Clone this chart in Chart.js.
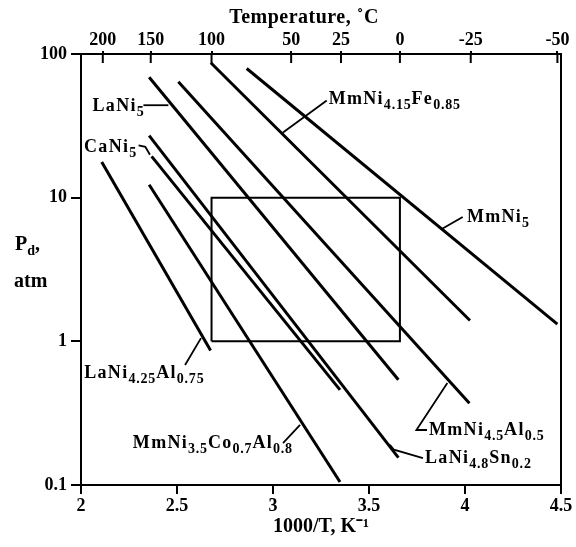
<!DOCTYPE html>
<html>
<head>
<meta charset="utf-8">
<script src="https://cdn.jsdelivr.net/npm/chart.js@4"></script>
<style>
  body { margin: 0; background: #fff; }
  #wrap { width: 576px; height: 547px; }
</style>
</head>
<body>
<div id="wrap"><canvas id="vhChart"></canvas></div>
<script>
// van't Hoff lines: plateau pressure vs 1000/T, each drawn from start to end point
const alloys = ['LaNi_{4.25}Al_{0.75}', 'MmNi_{3.5}Co_{0.7}Al_{0.8}', 'CaNi_{5}', 'LaNi_{4.8}Sn_{0.2}',
                'LaNi_{5}', 'MmNi_{4.5}Al_{0.5}', 'MmNi_{4.15}Fe_{0.85}', 'MmNi_{5}'];
const xStart = [2.108, 2.355, 2.368, 2.355, 2.355, 2.507, 2.676, 2.863];
const pStart = [17.7, 12.3, 19.4, 27.0, 68.9, 64.0, 86.9, 79.3];
const xEnd   = [2.675, 3.349, 3.349, 3.653, 3.653, 4.023, 4.026, 4.481];
const pEnd   = [0.863, 0.105, 0.459, 0.155, 0.54, 0.371, 1.396, 1.319];

// box: 0-100 C, 1-10 atm
const boxTemps = [0, 100];
const boxP = [1, 10];

const xTicks = [2, 2.5, 3, 3.5, 4, 4.5];
const yTicks = [0.1, 1, 10, 100];
const tempTicks = [200, 150, 100, 50, 25, 0, -25, -50];

const invT = (c) => 1000 / (c + 273.15);

// label positions (data coords) and leader polylines
const labelSpots = [
    { text: 'LaNi_{5}', x: 2.060, y: 43.3, leader: [[2.325, 44.0], [2.455, 44.0]] },
    { text: 'CaNi_{5}', x: 2.016, y: 22.3, leader: [[2.300, 23.1], [2.335, 22.6], [2.359, 19.9]] },
    { text: 'LaNi_{4.25}Al_{0.75}', x: 2.017, y: 0.603, leader: [[2.625, 1.053], [2.542, 0.685]] },
    { text: 'MmNi_{3.5}Co_{0.7}Al_{0.8}', x: 2.270, y: 0.196, leader: [[3.141, 0.262], [3.052, 0.196]] },
    { text: 'LaNi_{4.8}Sn_{0.2}', x: 3.792, y: 0.154, leader: [[3.609, 0.190], [3.63, 0.176], [3.781, 0.154]] },
    { text: 'MmNi_{4.5}Al_{0.5}', x: 3.8125, y: 0.2415, leader: [[3.908, 0.512], [3.747, 0.2415], [3.802, 0.2415]] },
    { text: 'MmNi_{4.15}Fe_{0.85}', x: 3.290, y: 48.2, leader: [[3.052, 28.4], [3.280, 47.4]] },
    { text: 'MmNi_{5}', x: 4.010, y: 7.26, leader: [[3.879, 6.05], [3.988, 7.34]] },
];

const FONT = '"Liberation Serif", "Times New Roman", serif';

function drawRich(ctx, str, x, y) {
    // split "ab_{cd}ef" into normal / subscript parts
    const parts = str.split(/(_\{[^}]*\})/).filter(s => s.length);
    let cx = x;
    ctx.textBaseline = 'middle';
    ctx.textAlign = 'left';
    parts.forEach(p => {
        if (p.startsWith('_{')) {
            ctx.font = 'bold 14px ' + FONT;
            ctx.letterSpacing = '0.8px';
            const t = p.slice(2, -1);
            ctx.fillText(t, cx, y + 6);
            cx += ctx.measureText(t).width;
        } else {
            ctx.font = 'bold 18px ' + FONT;
            ctx.letterSpacing = '1.3px';
            ctx.fillText(p, cx, y);
            cx += ctx.measureText(p).width;
        }
    });
    ctx.letterSpacing = '0px';
}

const extrasPlugin = {
    id: 'extras',
    afterDatasetsDraw(chart) {
        const ctx = chart.ctx;
        const xs = chart.scales.x, ys = chart.scales.y, top = chart.scales.xTop;
        const area = chart.chartArea;
        ctx.save();
        ctx.strokeStyle = '#000';
        ctx.fillStyle = '#000';

        // right frame line
        ctx.lineWidth = 2;
        ctx.beginPath();
        ctx.moveTo(area.right, area.top);
        ctx.lineTo(area.right, area.bottom);
        ctx.stroke();

        // inner part of top temperature ticks
        tempTicks.forEach(t => {
            const px = top.getPixelForValue(invT(t));
            ctx.beginPath();
            ctx.moveTo(px, area.top);
            ctx.lineTo(px, area.top + 9);
            ctx.stroke();
        });

        // leaders and labels
        ctx.lineWidth = 1.8;
        labelSpots.forEach(l => {
            ctx.beginPath();
            l.leader.forEach((pt, i) => {
                const px = xs.getPixelForValue(pt[0]), py = ys.getPixelForValue(pt[1]);
                if (i === 0) ctx.moveTo(px, py); else ctx.lineTo(px, py);
            });
            ctx.stroke();
            drawRich(ctx, l.text, xs.getPixelForValue(l.x), ys.getPixelForValue(l.y));
        });

        // top axis title
        ctx.font = 'bold 20px ' + FONT;
        ctx.letterSpacing = '0.5px';
        ctx.textAlign = 'center';
        ctx.textBaseline = 'middle';
        ctx.fillText('Temperature, ˚C', 304, 18);
        ctx.letterSpacing = '0px';

        // y axis title
        ctx.textAlign = 'left';
        ctx.font = 'bold 20px ' + FONT;
        ctx.fillText('P', 15, 245);
        const w = ctx.measureText('P').width;
        ctx.font = 'bold 14px ' + FONT;
        ctx.fillText('d', 15 + w, 251);
        const w2 = ctx.measureText('d').width;
        ctx.font = 'bold 20px ' + FONT;
        ctx.fillText(',', 15 + w + w2, 245);
        ctx.fillText('atm', 14, 282);
        ctx.restore();
    }
};

const lineSets = alloys.map((name, i) => ({
    label: name,
    data: [{ x: xStart[i], y: pStart[i] }, { x: xEnd[i], y: pEnd[i] }],
    borderColor: '#000',
    borderWidth: 3,
    pointRadius: 0,
    fill: false,
}));

const bx0 = invT(boxTemps[1]), bx1 = invT(boxTemps[0]);
lineSets.push({
    label: 'range',
    data: [{ x: bx0, y: boxP[0] }, { x: bx1, y: boxP[0] }, { x: bx1, y: boxP[1] },
           { x: bx0, y: boxP[1] }, { x: bx0, y: boxP[0] }],
    borderColor: '#000',
    borderWidth: 2,
    pointRadius: 0,
    fill: false,
});

const tickFont = { family: FONT, size: 18, weight: 'bold' };
const titleFont = { family: FONT, size: 20, weight: 'bold' };

new Chart(document.getElementById('vhChart').getContext('2d'), {
    type: 'line',
    data: { datasets: lineSets },
    plugins: [extrasPlugin],
    options: {
        responsive: true,
        maintainAspectRatio: false,
        animation: false,
        layout: { padding: { left: 0, right: 15, top: 0, bottom: 0 } },
        plugins: { legend: { display: false }, tooltip: { enabled: false } },
        scales: {
            x: {
                type: 'linear',
                position: 'bottom',
                min: 2, max: 4.5,
                afterBuildTicks: (s) => { s.ticks = xTicks.map(v => ({ value: v })); },
                ticks: { color: '#000', font: tickFont, padding: 2, maxRotation: 0, callback: (v) => String(v) },
                grid: { drawOnChartArea: false, color: '#000', lineWidth: 2, tickLength: 9 },
                border: { color: '#000', width: 2 },
                title: { display: true, text: '1000/T, K⁻¹', color: '#000', font: titleFont, padding: { top: 0, bottom: 8 } },
                afterFit: (s) => { s.height = 62; },
            },
            xTop: {
                type: 'linear',
                position: 'top',
                min: 2, max: 4.5,
                afterBuildTicks: (s) => { s.ticks = tempTicks.map(t => ({ value: invT(t) })); },
                ticks: { color: '#000', font: tickFont, padding: 0, maxRotation: 0, autoSkip: false,
                         callback: (v, i) => String(tempTicks[i]) },
                grid: { drawOnChartArea: false, color: '#000', lineWidth: 2, tickLength: 3 },
                border: { color: '#000', width: 2 },
                afterFit: (s) => { s.height = 54; },
            },
            y: {
                type: 'logarithmic',
                min: 0.1, max: 100,
                afterBuildTicks: (s) => { s.ticks = yTicks.map(v => ({ value: v })); },
                ticks: { color: '#000', font: tickFont, padding: 4, callback: (v) => String(v) },
                grid: { drawOnChartArea: false, color: '#000', lineWidth: 2, tickLength: 10 },
                border: { color: '#000', width: 2 },
                afterFit: (s) => { s.width = 81; },
            },
        },
    },
});
</script>
</body>
</html>
